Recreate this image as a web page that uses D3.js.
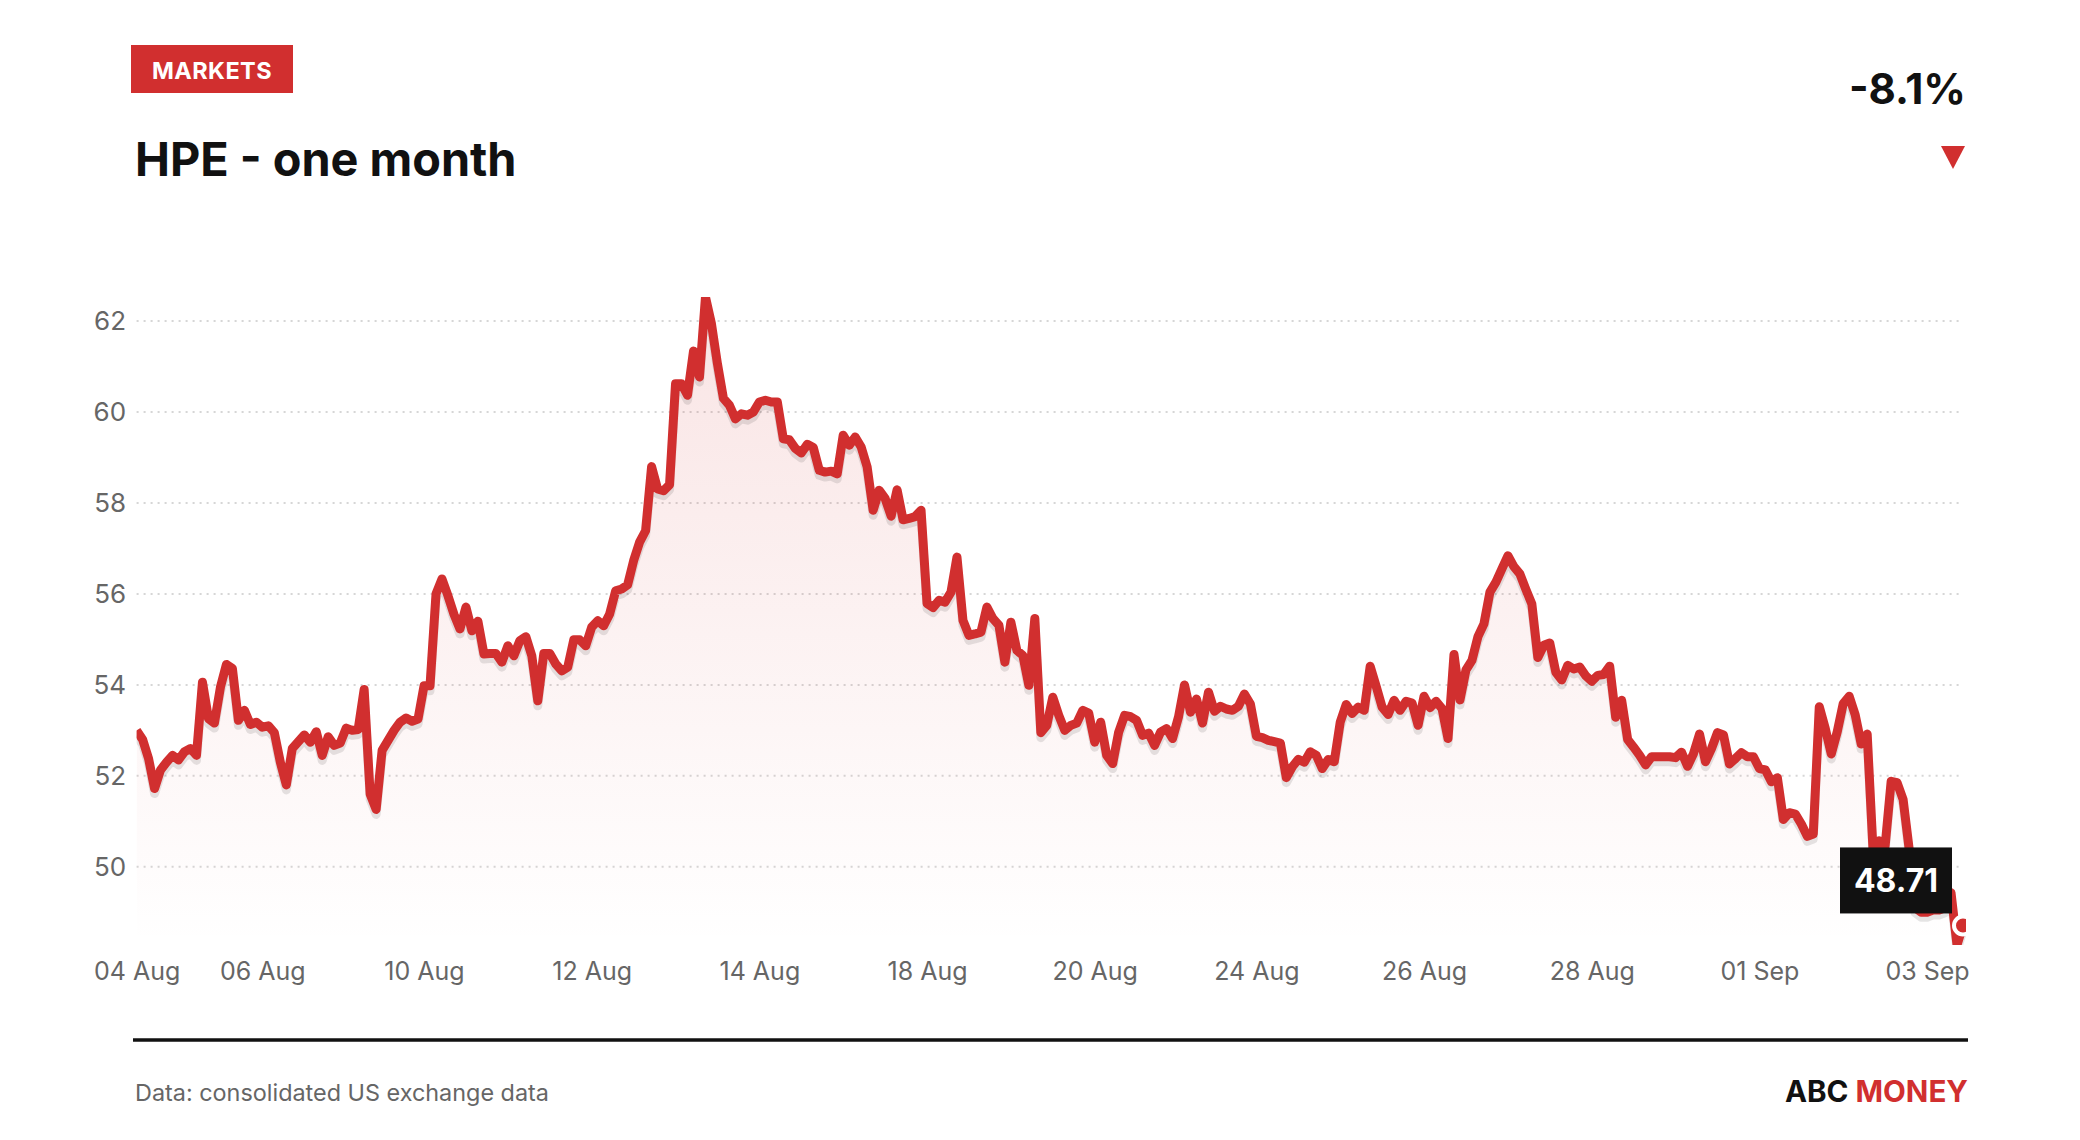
<!DOCTYPE html>
<html><head><meta charset="utf-8">
<script src="https://cdn.jsdelivr.net/npm/d3@7"></script>
<style>
html,body{margin:0;padding:0;background:#fff;}
svg{display:block;font-family:Inter,"Noto Sans",sans-serif;}
</style></head><body>
<svg id="c" width="2080" height="1140"></svg>
<script>
// ---- data (30-minute closes) ----
const prices = [
53.0,52.8,52.38,51.72,52.13,52.3,52.45,52.35,52.53,52.6,52.45,54.06,53.26,53.16,53.95,54.45,54.36,53.22,53.44,53.13,
53.18,53.07,53.1,52.95,52.3,51.8,52.6,52.75,52.9,52.74,52.97,52.45,52.86,52.67,52.72,53.05,53.0,53.02,53.9,51.6,
51.26,52.56,52.78,53.0,53.18,53.27,53.2,53.25,53.98,53.98,56.0,56.33,55.96,55.55,55.23,55.71,55.19,55.4,54.68,54.69,
54.69,54.5,54.86,54.64,54.97,55.06,54.64,53.65,54.69,54.69,54.46,54.31,54.39,54.99,54.99,54.86,55.27,55.41,55.3,55.56,
56.07,56.11,56.2,56.73,57.14,57.39,58.8,58.31,58.27,58.4,60.62,60.62,60.37,61.34,60.77,62.53,61.94,61.06,60.3,60.15,
59.85,59.96,59.93,60.0,60.22,60.26,60.22,60.22,59.41,59.39,59.2,59.1,59.29,59.22,58.72,58.68,58.7,58.64,59.49,59.27,
59.45,59.23,58.79,57.84,58.28,58.1,57.71,58.29,57.63,57.66,57.7,57.84,55.79,55.7,55.86,55.82,56.04,56.81,55.42,55.09,
55.12,55.16,55.71,55.46,55.31,54.5,55.38,54.76,54.65,53.99,55.46,52.95,53.11,53.73,53.33,53.0,53.11,53.16,53.44,53.38,
52.74,53.18,52.45,52.27,52.96,53.33,53.3,53.22,52.89,52.94,52.67,52.96,53.04,52.82,53.3,54.0,53.4,53.69,53.16,53.84,
53.42,53.53,53.47,53.44,53.53,53.8,53.58,52.87,52.84,52.78,52.75,52.72,51.96,52.2,52.36,52.3,52.53,52.45,52.16,52.36,
52.31,53.18,53.57,53.37,53.51,53.44,54.41,53.97,53.51,53.35,53.66,53.44,53.64,53.6,53.11,53.75,53.5,53.64,53.48,52.82,
54.67,53.67,54.33,54.54,55.06,55.34,56.04,56.26,56.55,56.84,56.6,56.44,56.1,55.78,54.6,54.87,54.92,54.28,54.11,54.43,
54.35,54.39,54.2,54.08,54.21,54.23,54.41,53.29,53.66,52.8,52.63,52.45,52.24,52.42,52.42,52.42,52.42,52.4,52.52,52.21,
52.49,52.92,52.31,52.6,52.95,52.9,52.26,52.38,52.51,52.42,52.42,52.16,52.13,51.87,51.96,51.04,51.19,51.16,50.94,50.67,
50.72,53.52,53.04,52.48,52.97,53.59,53.75,53.34,52.7,52.92,50.3,50.57,50.46,51.88,51.85,51.48,50.4,49.1,49.0,49.0,
49.05,49.05,49.1,49.43,48.28,48.71
];
const xTickIndex  = [0, 21, 48, 76, 104, 132, 160, 187, 215, 243, 271, 299];
const xTickLabels = ["04 Aug","06 Aug","10 Aug","12 Aug","14 Aug","18 Aug","20 Aug","24 Aug","26 Aug","28 Aug","01 Sep","03 Sep"];
const yTickValues = [50, 52, 54, 56, 58, 60, 62];
const tagText = "MARKETS";
const titleText = "HPE - one month";
const sourceText = "Data: consolidated US exchange data";
const brandParts = ["ABC ", "MONEY"];

// ---- layout ----
const plot = {left:136.6, right:1963, top:297, bottom:945};
const red = "#d12f2f", ink = "#111111", grey = "#666666";
const svg = d3.select("#c");

const x = d3.scaleLinear().domain([0, prices.length - 1]).range([plot.left, plot.right]);
const y = d3.scaleLinear().domain(d3.extent(prices)).range([plot.bottom, plot.top]);

const defs = svg.append("defs");
const grad = defs.append("linearGradient").attr("id","fillGrad")
  .attr("gradientUnits","userSpaceOnUse").attr("x1",0).attr("x2",0)
  .attr("y1",plot.top).attr("y2",plot.bottom);
grad.append("stop").attr("offset",0).attr("stop-color",red).attr("stop-opacity",0.13);
grad.append("stop").attr("offset",1).attr("stop-color",red).attr("stop-opacity",0);
defs.append("clipPath").attr("id","plotClip").append("rect")
  .attr("x",plot.left).attr("y",plot.top)
  .attr("width",plot.right + 3 - plot.left).attr("height",plot.bottom - plot.top);

// header
svg.append("rect").attr("x",131).attr("y",45).attr("width",162).attr("height",48).attr("fill",red);
svg.append("text").attr("x",212).attr("y",78.5).attr("text-anchor","middle")
  .attr("fill","#fff").attr("font-weight",700).attr("font-size",23.5).attr("letter-spacing",0.4).text(tagText);
svg.append("text").attr("x",135).attr("y",176).attr("fill",ink)
  .attr("font-weight",700).attr("font-size",46.8).text(titleText);

const change = (prices[prices.length-1] - prices[0]) / prices[0];
svg.append("text").attr("x",1966).attr("y",104).attr("text-anchor","end").attr("fill",ink)
  .attr("font-weight",700).attr("font-size",42).text(d3.format(".1%")(change).replace("−","-"));
const triTop = change < 0;
svg.append("path").attr("fill",red)
  .attr("d", triTop ? "M1941,146L1965,146L1953,169Z" : "M1941,169L1965,169L1953,146Z");

// gridlines
svg.append("g").selectAll("line").data(yTickValues).join("line")
  .attr("x1",plot.left).attr("x2",plot.right)
  .attr("y1",d=>y(d)).attr("y2",d=>y(d))
  .attr("stroke","#d6d6d6").attr("stroke-width",2).attr("stroke-dasharray","2,5");

// axes
const yAxis = svg.append("g").attr("transform",`translate(${plot.left},0)`)
  .call(d3.axisLeft(y).tickValues(yTickValues).tickSize(0).tickPadding(10.5).tickFormat(d3.format("d")));
yAxis.select(".domain").remove();
yAxis.selectAll("text").attr("font-size",26).attr("fill",grey).attr("font-family","Inter,sans-serif");

const xAxis = svg.append("g").attr("transform",`translate(0,${plot.bottom})`)
  .call(d3.axisBottom(x).tickValues(xTickIndex).tickSize(0).tickPadding(17)
    .tickFormat((d,i)=>xTickLabels[i]));
xAxis.select(".domain").remove();
xAxis.selectAll("text").attr("font-size",25).attr("fill",grey).attr("font-family","Inter,sans-serif");

// series
const g = svg.append("g").attr("clip-path","url(#plotClip)");
const area = d3.area().x((d,i)=>x(i)).y0(plot.bottom).y1(d=>y(d));
const line = d3.line().x((d,i)=>x(i)).y(d=>y(d));
g.append("path").datum(prices).attr("d",area).attr("fill","url(#fillGrad)");
g.append("path").datum(prices).attr("d",line).attr("fill","none")
  .attr("stroke","#000").attr("stroke-opacity",0.1).attr("stroke-width",9)
  .attr("stroke-linejoin","round").attr("transform","translate(0,5)");
g.append("path").datum(prices).attr("d",line).attr("fill","none")
  .attr("stroke",red).attr("stroke-width",9).attr("stroke-linejoin","round");

const lastI = prices.length - 1, lx = x(lastI), ly = y(prices[lastI]);
g.append("circle").attr("cx",lx).attr("cy",ly).attr("r",9)
  .attr("fill",red).attr("stroke","#fff").attr("stroke-width",4);

// last value label
svg.append("rect").attr("x",lx-123).attr("y",ly-78).attr("width",112).attr("height",66).attr("fill",ink);
svg.append("text").attr("x",lx-67).attr("y",ly-33.5).attr("text-anchor","middle").attr("fill","#fff")
  .attr("font-weight",700).attr("font-size",32).text(d3.format(".2f")(prices[lastI]));

// footer
svg.append("line").attr("x1",133).attr("x2",1968).attr("y1",1040).attr("y2",1040)
  .attr("stroke",ink).attr("stroke-width",3.5);
svg.append("text").attr("x",135).attr("y",1101).attr("fill",grey).attr("font-size",23.4).text(sourceText);
const brand = svg.append("text").attr("x",1968).attr("y",1102).attr("text-anchor","end")
  .attr("font-weight",700).attr("font-size",29.6);
brand.append("tspan").attr("fill",ink).text(brandParts[0]);
brand.append("tspan").attr("fill",red).text(brandParts[1]);
</script>
</body></html>
